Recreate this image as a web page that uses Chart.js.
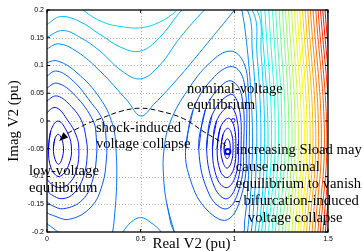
<!DOCTYPE html>
<html><head><meta charset="utf-8">
<script src="https://cdn.jsdelivr.net/npm/chart.js@4.4.1/dist/chart.umd.min.js"></script>
<style>html,body{margin:0;padding:0;background:#fff;}</style>
</head><body>
<canvas id="c" width="363" height="251"></canvas>
<script>
// ---- tick values / labels ----
const xTicks = [0, 0.5, 1, 1.5];
const xTickLabels = ['0', '0.5', '1', '1.5'];
const yTicks = [-0.2, -0.15, -0.1, -0.05, 0, 0.05, 0.1, 0.15, 0.2];
const yTickLabels = ['-0.2', '-0.15', '-0.1', '-0.05', '0', '0.05', '0.1', '0.15', '0.2'];

// ---- contour lines (level index, [x,y] points) ----
const leftWellRings = [
  {lvl:2, pts:[[0.034,-0.05],[0.042,-0.032],[0.06,-0.024],[0.078,-0.032],[0.088,-0.049],[0.08,-0.068],[0.062,-0.078],[0.043,-0.069],[0.034,-0.05],[0.042,-0.032]]},
  {lvl:3, pts:[[0.008,-0.05],[0.02,-0.018],[0.058,0.0],[0.1,-0.015],[0.13,-0.045],[0.115,-0.08],[0.065,-0.1],[0.022,-0.085],[0.008,-0.05],[0.02,-0.018]]},
  {lvl:4, pts:[[-0.02,0.0],[0,0.015],[0.05,0.024],[0.113,0.0],[0.155,-0.025],[0.17,-0.05],[0.158,-0.088],[0.12,-0.112],[0.075,-0.12],[0.03,-0.115],[0,-0.105],[-0.02,-0.095]]},
  {lvl:5, pts:[[-0.02,0.025],[0,0.036],[0.055,0.045],[0.13,0.026],[0.185,0.0],[0.208,-0.03],[0.215,-0.06],[0.195,-0.1],[0.145,-0.13],[0.08,-0.14],[0.025,-0.133],[0,-0.125],[-0.02,-0.115]]},
  {lvl:6, pts:[[-0.02,0.05],[0,0.059],[0.055,0.068],[0.15,0.046],[0.247,0.0],[0.263,-0.03],[0.265,-0.06],[0.245,-0.105],[0.19,-0.142],[0.09,-0.158],[0.025,-0.152],[0,-0.145],[-0.02,-0.137]]},
  {lvl:7, pts:[[-0.02,0.073],[0,0.081],[0.053,0.09],[0.14,0.072],[0.229,0.036],[0.3,0.0],[0.316,-0.035],[0.318,-0.065],[0.295,-0.115],[0.235,-0.155],[0.12,-0.177],[0.03,-0.17],[0,-0.165],[-0.02,-0.158]]},
  {lvl:8, pts:[[-0.02,0.098],[0,0.105],[0.058,0.108],[0.16,0.087],[0.283,0.041],[0.35,-0.006],[0.368,-0.05],[0.372,-0.11],[0.362,-0.165],[0.35,-0.2],[0.33,-0.225],[0.2,-0.23],[0.08,-0.205],[0.02,-0.19],[0,-0.185],[-0.02,-0.178]]}
];
const rightWellRings = [
  {lvl:1, pts:[[0.945,-0.05],[0.95,-0.038],[0.963,-0.032],[0.975,-0.038],[0.978,-0.05],[0.974,-0.062],[0.962,-0.068],[0.95,-0.062],[0.945,-0.05],[0.95,-0.038]]},
  {lvl:2, pts:[[0.928,-0.05],[0.94,-0.024],[0.966,-0.013],[0.987,-0.025],[0.993,-0.05],[0.985,-0.073],[0.962,-0.085],[0.94,-0.075],[0.928,-0.05],[0.94,-0.024]]},
  {lvl:3, pts:[[0.908,-0.05],[0.925,-0.012],[0.97,0.005],[1.0,-0.012],[1.008,-0.05],[0.998,-0.085],[0.962,-0.102],[0.925,-0.09],[0.908,-0.05],[0.925,-0.012]]},
  {lvl:4, pts:[[0.883,-0.05],[0.905,0.0],[0.975,0.026],[1.013,0.005],[1.022,-0.045],[1.01,-0.095],[0.962,-0.12],[0.91,-0.105],[0.883,-0.05],[0.905,0.0]]},
  {lvl:5, pts:[[0.852,-0.05],[0.88,0.01],[0.98,0.048],[1.025,0.025],[1.036,-0.045],[1.02,-0.105],[0.962,-0.14],[0.895,-0.12],[0.852,-0.05],[0.88,0.01]]},
  {lvl:6, pts:[[0.81,-0.05],[0.845,0.02],[0.92,0.06],[0.985,0.072],[1.04,0.045],[1.05,-0.045],[1.032,-0.115],[0.962,-0.158],[0.87,-0.135],[0.81,-0.05],[0.845,0.02]]},
  {lvl:7, pts:[[0.74,-0.05],[0.78,0.02],[0.88,0.075],[0.99,0.098],[1.052,0.07],[1.064,-0.045],[1.045,-0.125],[0.962,-0.178],[0.84,-0.155],[0.76,-0.1],[0.74,-0.05],[0.78,0.02]]},
  {lvl:8, pts:[[0.68,-0.2],[0.64,-0.15],[0.622,-0.1],[0.625,-0.05],[0.66,0.0],[0.75,0.055],[0.87,0.105],[0.98,0.126],[1.05,0.105],[1.075,0.05],[1.08,-0.04],[1.072,-0.12],[1.055,-0.18],[1.04,-0.205],[0.9,-0.22],[0.75,-0.215],[0.68,-0.2],[0.64,-0.15]]}
];
const saddleLines = [
  {lvl:9, pts:[[-0.02,0.126],[0,0.13],[0.063,0.139],[0.16,0.125],[0.283,0.09],[0.43,0.036],[0.5,0.009],[0.57,0.03],[0.71,0.081],[0.853,0.139],[1.0,0.2],[1.02,0.212],[1.04,0.2],[1.072,0.12],[1.09,0.04],[1.097,-0.03],[1.092,-0.1],[1.083,-0.15],[1.07,-0.2],[1.05,-0.23]]},
  {lvl:9, pts:[[0.36,-0.225],[0.405,-0.2],[0.45,-0.182],[0.5,-0.174],[0.55,-0.182],[0.61,-0.2],[0.65,-0.225]]},
  {lvl:10, pts:[[-0.02,0.147],[0,0.151],[0.085,0.163],[0.18,0.15],[0.283,0.126],[0.4,0.09],[0.5,0.076],[0.6,0.1],[0.71,0.15],[0.84,0.2],[0.95,0.235],[1.07,0.2],[1.097,0.12],[1.114,0.04],[1.12,-0.03],[1.114,-0.1],[1.104,-0.15],[1.09,-0.2],[1.07,-0.23]]},
  {lvl:11, pts:[[-0.02,0.17],[0,0.174],[0.07,0.188],[0.17,0.18],[0.283,0.156],[0.4,0.132],[0.5,0.126],[0.6,0.15],[0.72,0.2],[0.9,0.26],[1.095,0.2],[1.121,0.12],[1.137,0.04],[1.142,-0.03],[1.136,-0.1],[1.126,-0.15],[1.11,-0.2],[1.09,-0.23]]},
  {lvl:12, pts:[[0.14,0.22],[0.192,0.2],[0.3,0.178],[0.4,0.17],[0.5,0.168],[0.6,0.178],[0.693,0.2],[0.9,0.28],[1.12,0.2],[1.143,0.12],[1.157,0.04],[1.162,-0.03],[1.156,-0.1],[1.145,-0.15],[1.128,-0.2],[1.11,-0.23]]},
  {lvl:13, pts:[[-0.02,0.19],[0,0.197],[0.02,0.202],[0.05,0.215]]}
];
// right-hand open contours: x at top edge, at bulge (y=-0.03) and at bottom edge
const rightLevels = [13,14,15,16,17,18,19,20,21,22,23,24,25,26,27,28,29,30,31,32,33,34,35,36];
const rightTopX = [1.142,1.163,1.184,1.204,1.221,1.239,1.257,1.273,1.289,1.305,1.321,1.335,1.349,1.364,1.378,1.392,1.406,1.42,1.435,1.447,1.46,1.472,1.484,1.497];
const rightMidX = [1.18,1.199,1.218,1.236,1.254,1.272,1.291,1.308,1.325,1.342,1.359,1.374,1.389,1.405,1.42,1.435,1.45,1.465,1.481,1.494,1.508,1.521,1.534,1.548];
const rightBotX = [1.146,1.164,1.183,1.201,1.219,1.237,1.256,1.273,1.29,1.307,1.324,1.339,1.354,1.37,1.385,1.4,1.415,1.43,1.446,1.459,1.473,1.486,1.499,1.513];

// dashed transition path (shock-induced collapse) ending with an arrow
const arcX = [0.955,0.93,0.84,0.73,0.6,0.5,0.4,0.283,0.213,0.166,0.107,0.065];
const arcY = [-0.045,-0.038,-0.02,0.004,0.018,0.023,0.018,0.004,-0.005,-0.013,-0.023,-0.036];
// equilibrium markers
const eqBig = [{x:0.965, y:-0.055}];
const eqSmall = [{x:0.994, y:0.001}];

// annotation texts (data coordinates of left/middle)
const notes = [
  {t:'nominal-voltage', x:0.747, y:0.058},
  {t:'equilibrium', x:0.747, y:0.029},
  {t:'shock-induced', x:0.261, y:-0.013},
  {t:'voltage collapse', x:0.261, y:-0.041},
  {t:'low-voltage', x:-0.096, y:-0.09},
  {t:'equilibrium', x:-0.096, y:-0.121},
  {t:'increasing Sload may', x:1.008, y:-0.052},
  {t:'cause nominal', x:1.008, y:-0.083},
  {t:'equilibrium to vanish', x:1.008, y:-0.114},
  {t:'- bifurcation-induced', x:1.003, y:-0.144},
  {t:'voltage collapse', x:1.072, y:-0.175}
];

// ---- styling helpers ----
function jet(t){
  const c = v => Math.max(0, Math.min(1, v));
  const r = c(1.5 - Math.abs(4*t - 3)), g = c(1.5 - Math.abs(4*t - 2)), b = c(1.5 - Math.abs(4*t - 1));
  return 'rgb(' + Math.round(r*255) + ',' + Math.round(g*255) + ',' + Math.round(b*255) + ')';
}
const levelColor = k => jet((k + 2) / 42);
function lineDs(pts, lvl){
  return {data: pts.map(p => ({x:p[0], y:p[1]})), showLine:true, borderColor: levelColor(lvl),
    borderWidth:1, pointRadius:0, tension:0.4, fill:false, order:5, clip:0};
}

const datasets = [];
datasets.push({data: eqBig, showLine:false, pointRadius:2.6, borderWidth:2, borderColor:'#0000ff', backgroundColor:'#ffffff', order:0, clip:false});
datasets.push({data: eqSmall, showLine:false, pointRadius:1.8, borderWidth:1, borderColor:'#0000ff', backgroundColor:'#ffffff', order:0, clip:false});
datasets.push({data: arcX.map((x,i)=>({x:x, y:arcY[i]})), showLine:true, borderColor:'#000', borderWidth:1,
  borderDash:[5,3], pointRadius:0, tension:0.4, order:1, clip:0});
leftWellRings.forEach(c => datasets.push(lineDs(c.pts, c.lvl)));
rightWellRings.forEach(c => datasets.push(lineDs(c.pts, c.lvl)));
saddleLines.forEach(c => datasets.push(lineDs(c.pts, c.lvl)));
rightLevels.forEach((k,i) => datasets.push(lineDs([[rightTopX[i],0.2],[rightMidX[i],-0.03],[rightBotX[i],-0.2]], k)));

const gridPlugin = {
  id:'mgrid',
  beforeDatasetsDraw(chart){
    const {ctx, chartArea:a, scales:{x, y}} = chart;
    ctx.save();
    ctx.strokeStyle = '#b4b4b4'; ctx.lineWidth = 1; ctx.setLineDash([1,2]);
    xTicks.forEach(v => { if (v <= 0 || v >= 1.5) return; const px = Math.round(x.getPixelForValue(v)) + 0.5;
      ctx.beginPath(); ctx.moveTo(px, a.top); ctx.lineTo(px, a.bottom); ctx.stroke(); });
    yTicks.forEach(v => { if (v <= -0.2 || v >= 0.2) return; const py = Math.round(y.getPixelForValue(v)) + 0.5;
      ctx.beginPath(); ctx.moveTo(a.left, py); ctx.lineTo(a.right, py); ctx.stroke(); });
    ctx.restore();
  }
};

function fitFont(ctx, text, family, target){
  ctx.font = '100px "' + family + '"';
  return 100 * target / ctx.measureText(text).width;
}

const overlayPlugin = {
  id:'overlay',
  afterDatasetsDraw(chart){
    const {ctx, chartArea:a, scales:{x, y}} = chart;
    ctx.save();
    // arrow head
    const n = arcX.length;
    const x1 = x.getPixelForValue(arcX[n-2]), y1 = y.getPixelForValue(arcY[n-2]);
    const x2 = x.getPixelForValue(arcX[n-1]), y2 = y.getPixelForValue(arcY[n-1]);
    const ang = Math.atan2(y2 - y1, x2 - x1), L = 9, W = 3.5;
    ctx.fillStyle = '#000';
    ctx.beginPath();
    ctx.moveTo(x2, y2);
    ctx.lineTo(x2 - L*Math.cos(ang) + W*Math.sin(ang), y2 - L*Math.sin(ang) - W*Math.cos(ang));
    ctx.lineTo(x2 - L*Math.cos(ang) - W*Math.sin(ang), y2 - L*Math.sin(ang) + W*Math.cos(ang));
    ctx.closePath(); ctx.fill();
    // frame and inward ticks
    ctx.strokeStyle = '#000'; ctx.lineWidth = 1.3; ctx.setLineDash([]);
    ctx.strokeRect(a.left, a.top, a.right - a.left, a.bottom - a.top);
    ctx.lineWidth = 1;
    xTicks.forEach(v => { const px = x.getPixelForValue(v);
      ctx.beginPath(); ctx.moveTo(px, a.bottom); ctx.lineTo(px, a.bottom - 3);
      ctx.moveTo(px, a.top); ctx.lineTo(px, a.top + 3); ctx.stroke(); });
    yTicks.forEach(v => { const py = y.getPixelForValue(v);
      ctx.beginPath(); ctx.moveTo(a.left, py); ctx.lineTo(a.left + 3, py);
      ctx.moveTo(a.right, py); ctx.lineTo(a.right - 3, py); ctx.stroke(); });
    // annotations
    const s = fitFont(ctx, 'increasing Sload may', 'Liberation Serif', 126);
    ctx.font = s.toFixed(2) + 'px "Liberation Serif"';
    ctx.fillStyle = '#000'; ctx.textAlign = 'left'; ctx.textBaseline = 'middle';
    notes.forEach(nt => ctx.fillText(nt.t, x.getPixelForValue(nt.x), y.getPixelForValue(nt.y)));
    // axis titles
    const st = fitFont(ctx, 'Real V2 (pu)', 'Liberation Serif', 78);
    ctx.font = st.toFixed(2) + 'px "Liberation Serif"';
    ctx.textAlign = 'center';
    ctx.fillText('Real V2 (pu)', 191.5, 244);
    ctx.translate(14, 121); ctx.rotate(-Math.PI/2);
    ctx.fillText('Imag V2 (pu)', 0, 0);
    ctx.restore();
  }
};

new Chart(document.getElementById('c').getContext('2d'), {
  type:'scatter',
  data:{datasets},
  options:{
    responsive:false, animation:false, devicePixelRatio:1,
    layout:{padding:{left:0, right:35, top:10, bottom:0}},
    plugins:{legend:{display:false}, tooltip:{enabled:false}},
    elements:{line:{capBezierPoints:false}},
    scales:{
      x:{type:'linear', min:0, max:1.5,
        afterFit: s => { s.height = 19; },
        afterBuildTicks: s => { s.ticks = xTicks.map(v => ({value:v})); },
        ticks:{callback:(v,i) => xTickLabels[i], font:{family:'Liberation Sans', size:7}, color:'#000', padding:3, autoSkip:false, maxRotation:0},
        grid:{display:false, drawTicks:false}, border:{display:false}},
      y:{type:'linear', min:-0.2, max:0.2,
        afterFit: s => { s.width = 47; },
        afterBuildTicks: s => { s.ticks = yTicks.map(v => ({value:v})); },
        ticks:{callback:(v,i) => yTickLabels[i], font:{family:'Liberation Sans', size:7}, color:'#000', padding:3, autoSkip:false},
        grid:{display:false, drawTicks:false}, border:{display:false}}
    }
  },
  plugins:[gridPlugin, overlayPlugin]
});
</script>
</body></html>
